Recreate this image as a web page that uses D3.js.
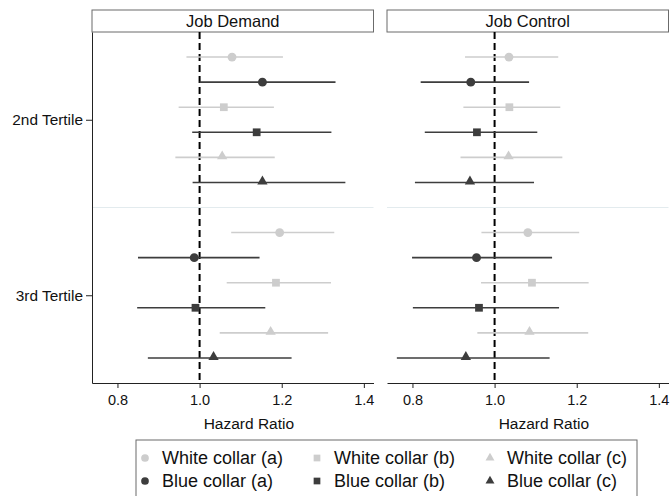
<!DOCTYPE html>
<html><head><meta charset="utf-8">
<script src="https://cdn.jsdelivr.net/npm/d3@7"></script>
<style>body{margin:0;background:#fff}svg{display:block;font-family:"Liberation Sans",Arial,sans-serif}</style>
</head><body><svg id="c" width="671" height="496"></svg>
<script>
const panels = ["Job Demand", "Job Control"];
const categories = ["2nd Tertile", "3rd Tertile"];
const series = ["White collar (a)", "Blue collar (a)", "White collar (b)", "Blue collar (b)", "White collar (c)", "Blue collar (c)"];
const xTicks = [0.8, 1.0, 1.2, 1.4];
// [tertile][series]
const demandHR = [[1.079,1.153,1.059,1.139,1.055,1.153],[1.195,0.987,1.186,0.990,1.173,1.034]];
const demandLo = [[0.968,1.000,0.949,0.982,0.941,0.983],[1.077,0.850,1.066,0.848,1.049,0.874]];
const demandHi = [[1.203,1.331,1.181,1.321,1.183,1.355],[1.328,1.146,1.320,1.160,1.313,1.224]];
const controlHR = [[1.035,0.942,1.036,0.957,1.034,0.940],[1.081,0.956,1.091,0.962,1.085,0.930]];
const controlLo = [[0.928,0.820,0.924,0.830,0.917,0.806],[0.968,0.799,0.967,0.801,0.958,0.762]];
const controlHi = [[1.155,1.084,1.160,1.104,1.165,1.096],[1.206,1.140,1.229,1.157,1.228,1.134]];

(function () {
const panelData = [
  {hr: demandHR, lo: demandLo, hi: demandHi},
  {hr: controlHR, lo: controlLo, hi: controlHi}
];
const colors = ["#cdcdcd", "#3d3d3d"];
const shapes = [d3.symbolCircle, d3.symbolSquare, d3.symbolTriangle];
const sizes = [62, 60, 46];

const svg = d3.select("#c");
const plotTop = 32, plotBottom = 383;
const y = d3.scaleLinear().domain([0, 14]).range([plotTop, plotBottom]);
const panelRanges = [[92, 373.5], [387, 668.5]];
const domain = [0.738, 1.4235];

panels.forEach((title, p) => {
  const x = d3.scaleLinear().domain(domain).range(panelRanges[p]);
  const g = svg.append("g");
  const [x0, x1] = panelRanges[p];
  g.append("rect").attr("x", x0).attr("y", 10).attr("width", x1 - x0).attr("height", plotTop - 10)
    .attr("fill", "#fff").attr("stroke", "#6b6b6b").attr("stroke-width", 1);
  g.append("text").attr("x", (x0 + x1) / 2).attr("y", 26.5).attr("text-anchor", "middle")
    .attr("font-size", 16.5).attr("fill", "#111").text(title);
  g.append("line").attr("x1", x0).attr("x2", x1).attr("y1", y(7)).attr("y2", y(7))
    .attr("stroke", "#e3ebee").attr("stroke-width", 1);
  const ax = g.append("g").attr("transform", `translate(0,${plotBottom})`)
    .call(d3.axisBottom(x).tickValues(xTicks).tickFormat(d3.format(".1f")).tickSize(5).tickSizeOuter(0));
  ax.select(".domain").attr("stroke", "#222");
  ax.selectAll(".tick line").attr("stroke", "#222");
  ax.selectAll(".tick text").attr("font-size", 14.5).attr("fill", "#111").attr("dy", "0.95em")
    .attr("font-family", "Liberation Sans, Arial, sans-serif");
  g.append("text").attr("x", x(1.12)).attr("y", 428.5).attr("text-anchor", "middle")
    .attr("font-size", 15.5).attr("fill", "#111").text("Hazard Ratio");
  if (p === 0) {
    const ay = g.append("g").attr("transform", `translate(${x0},0)`)
      .call(d3.axisLeft(y).tickValues([3.5, 10.5]).tickFormat((d, i) => categories[i]).tickSize(6).tickSizeOuter(0));
    ay.select(".domain").attr("stroke", "#222");
    ay.selectAll(".tick line").attr("stroke", "#222");
    ay.selectAll(".tick text").attr("font-size", 15.4).attr("fill", "#111").attr("x", -9)
      .attr("font-family", "Liberation Sans, Arial, sans-serif");
  }
  g.append("line").attr("x1", x(1)).attr("x2", x(1)).attr("y1", plotTop).attr("y2", plotBottom)
    .attr("stroke", "#000").attr("stroke-width", 2).attr("stroke-dasharray", "7,4");
  const d = panelData[p];
  categories.forEach((cat, t) => {
    series.forEach((s, k) => {
      const pos = t * 7 + k + 1;
      const col = colors[k % 2];
      g.append("line").attr("x1", x(d.lo[t][k])).attr("x2", x(d.hi[t][k]))
        .attr("y1", y(pos)).attr("y2", y(pos)).attr("stroke", col).attr("stroke-width", 1.6);
      const sh = Math.floor(k / 2);
      g.append("path").attr("d", d3.symbol().type(shapes[sh]).size(sizes[sh])())
        .attr("transform", `translate(${x(d.hr[t][k])},${y(pos) + (sh === 2 ? -1 : 0)})`)
        .attr("fill", col);
    });
  });
});

const lg = svg.append("g");
lg.append("rect").attr("x", 136).attr("y", 440).attr("width", 501).attr("height", 80)
  .attr("fill", "#fff").attr("stroke", "#6b6b6b").attr("stroke-width", 1);
const colX = [145, 317, 490];
const rowY = [458, 481];
series.forEach((s, k) => {
  const c = Math.floor(k / 2), r = k % 2;
  lg.append("path").attr("d", d3.symbol().type(shapes[c]).size(sizes[c] * 0.75)())
    .attr("transform", `translate(${colX[c]},${rowY[r]})`).attr("fill", colors[r]);
  lg.append("text").attr("x", colX[c] + 17).attr("y", rowY[r]).attr("dy", "0.35em")
    .attr("font-size", 18).attr("fill", "#111").text(s);
});
})();
</script></body></html>
